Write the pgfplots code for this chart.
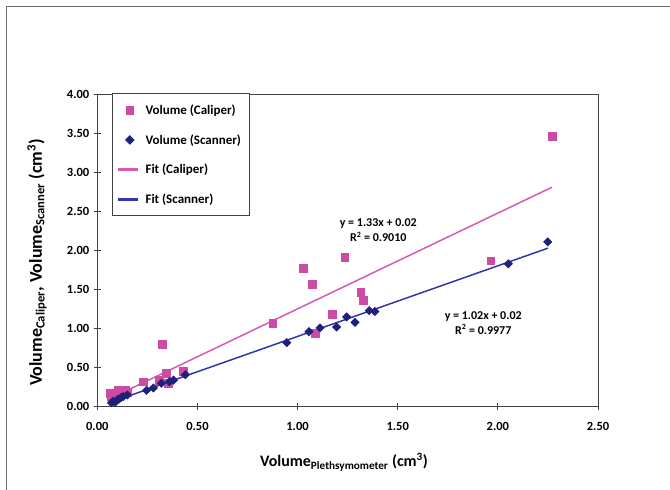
\documentclass[border=0pt]{standalone}
\usepackage{fontspec}
\setmainfont{Carlito}
\usepackage{pgfplots}
\pgfplotsset{compat=1.18}
\definecolor{calpink}{RGB}{204,76,163}
\definecolor{calline}{RGB}{214,90,180}
\definecolor{scannavy}{RGB}{32,32,122}
\definecolor{scanline}{RGB}{52,52,172}
\definecolor{framegray}{RGB}{110,110,110}
\pgfplotsset{
  marklegend/.style={legend image code/.code={\path (0pt,0pt) (24pt,0pt); \draw[mark repeat=2,mark phase=2,##1] plot coordinates {(0pt,0pt) (11pt,0pt) (22pt,0pt)};}},
  linelegend/.style={legend image code/.code={\path (0pt,0pt) (24pt,0pt); \fill[#1] (0pt,-1pt) rectangle (18pt,1pt);}},
}
\begin{document}
\begin{tikzpicture}[x=1pt,y=1pt]
\useasboundingbox (0,0) rectangle (670,490);
\draw[framegray, line width=1pt] (6,0) -- (6,483) -- (670,483);
\begin{axis}[
  at={(97.3pt,83.3pt)}, anchor=south west,
  scale only axis, width=500.7pt, height=312.4pt,
  xmin=0, xmax=2.5, ymin=0, ymax=4,
  xtick={0,0.5,1,1.5,2,2.5}, ytick={0,0.5,1,1.5,2,2.5,3,3.5,4},
  xtick pos=left, ytick pos=left,
  tick align=center, major tick length=7pt,
  tick style={black!75, line width=0.8pt},
  axis line style={black!75, line width=0.8pt},
  /pgf/number format/assume math mode=true,
  /pgf/number format/.cd, fixed, fixed zerofill, precision=2, /pgfplots/.cd,
  ticklabel style={font=\fontsize{12.5}{14}\selectfont\bfseries},
  xticklabel style={yshift=-9pt},
  yticklabel style={xshift=-1pt},
  xlabel={Volume\textsubscript{Plethsymometer} (cm\textsuperscript{3})},
  ylabel={Volume\textsubscript{Caliper}, Volume\textsubscript{Scanner} (cm\textsuperscript{3})},
  xlabel style={font=\fontsize{16}{18}\selectfont\bfseries, at={(axis description cs:0.4927,-0.177)}, anchor=center},
  ylabel style={font=\fontsize{18}{20}\selectfont\bfseries, at={(axis description cs:-0.1204,0.4616)}, anchor=center},
  legend style={at={(axis description cs:0.0287,1.003)}, anchor=north west,
    draw=black!75, line width=0.8pt, font=\fontsize{13}{14}\selectfont\bfseries,
    row sep=14.5pt, inner xsep=6pt, inner ysep=9pt},
  legend cell align=left,
]
\addplot[only marks, mark=square*, mark size=3.9pt, color=calpink, marklegend]
  coordinates {
  (0.07,0.13) (0.08,0.11) (0.063,0.17) (0.10,0.17) (0.105,0.21) (0.12,0.20)
  (0.138,0.21) (0.15,0.19) (0.23,0.32) (0.31,0.34) (0.355,0.30) (0.346,0.43)
  (0.326,0.80) (0.43,0.45) (0.876,1.07) (1.03,1.77) (1.073,1.57) (1.088,0.94)
  (1.172,1.18) (1.235,1.91) (1.315,1.47) (1.327,1.36) (1.964,1.87) (2.27,3.46)
  };
\addlegendentry{Volume (Caliper)}
\addplot[only marks, mark=square*, mark size=3pt, mark options={rotate=45}, color=scannavy, marklegend]
  coordinates {
  (0.07,0.05) (0.08,0.07) (0.09,0.06) (0.10,0.09) (0.11,0.10) (0.12,0.12)
  (0.13,0.13) (0.15,0.15) (0.246,0.21) (0.28,0.24) (0.32,0.30) (0.36,0.32)
  (0.38,0.34) (0.44,0.41) (0.946,0.82) (1.057,0.96) (1.112,1.01) (1.195,1.02)
  (1.245,1.15) (1.287,1.08) (1.358,1.23) (1.386,1.22) (2.052,1.83) (2.249,2.11)
  };
\addlegendentry{Volume (Scanner)}
\addplot[calline, line width=1.5pt, no marks, linelegend=calline]
  coordinates {(0.06,0.10) (2.27,2.81)};
\addlegendentry{Fit (Caliper)}
\addplot[scanline, line width=1.5pt, no marks, linelegend=scanline]
  coordinates {(0.06,0.05) (2.25,2.03)};
\addlegendentry{Fit (Scanner)}
\node[font=\fontsize{12}{15}\selectfont\bfseries, align=center] at (axis cs:1.403,2.255)
  {y = 1.33x + 0.02\\R\textsuperscript{2} = 0.9010};
\node[font=\fontsize{12}{15}\selectfont\bfseries, align=center] at (axis cs:1.927,1.075)
  {y = 1.02x + 0.02\\R\textsuperscript{2} = 0.9977};
\end{axis}
\end{tikzpicture}
\end{document}
